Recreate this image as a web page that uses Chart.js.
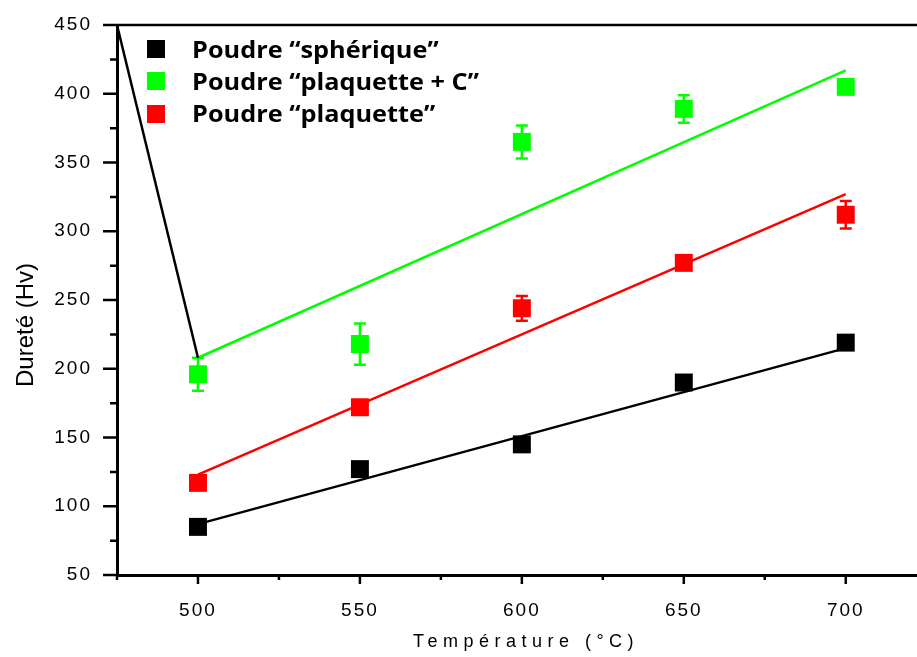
<!DOCTYPE html>
<html>
<head>
<meta charset="utf-8">
<script src="https://cdn.jsdelivr.net/npm/chart.js@4/dist/chart.umd.min.js"></script>
<style>
  html, body { margin: 0; padding: 0; background: #fff; overflow: hidden; }
  #wrap { width: 917px; height: 657px; position: relative; }
</style>
</head>
<body>
<div id="wrap"><canvas id="hvChart"></canvas></div>
<script>
const temps = [500, 550, 600, 650, 700];
const spheriqueHv = [85, 127, 145, 190, 219];
const spheriqueErr = [0, 0, 0, 0, 5];
const plaquetteCHv = [196, 218, 365, 389, 405];
const plaquetteCErr = [12, 15, 12, 10, 4];
const plaquetteHv = [117, 172, 244, 277, 312];
const plaquetteErr = [0, 3, 9, 2, 10];

const fitX = [500, 700];
const spheriqueFit = [87, 215];
const plaquetteCFit = [208, 417];
const plaquetteFit = [123, 327];
const guideX = [475, 500];
const guideY = [450, 208];

const xTicks = [475, 500, 525, 550, 575, 600, 625, 650, 675, 700];
const yTicks = [50, 75, 100, 125, 150, 175, 200, 225, 250, 275, 300, 325, 350, 375, 400, 425, 450];
const legendLabels = ['Poudre “sphérique”', 'Poudre “plaquette + C”', 'Poudre “plaquette”'];
const black = '#000000', green = '#00ff00', red = '#ff0000';

function pts(xs, ys) {
  return xs.map((x, i) => ({ x, y: ys[i] }));
}

function markerSet(label, ys, errs, color) {
  return {
    type: 'scatter', label, data: pts(temps, ys), errs,
    pointStyle: 'rect', pointRadius: 12.7, pointHoverRadius: 12.7,
    backgroundColor: color, borderColor: color, borderWidth: 0, order: 0
  };
}

function lineSet(xs, ys, color) {
  return {
    type: 'line', data: pts(xs, ys), borderColor: color, borderWidth: 2.5,
    pointRadius: 0, fill: false, tension: 0, order: 1
  };
}

// error bars under the markers
const errorBars = {
  id: 'errorBars',
  beforeDatasetsDraw(chart) {
    const { ctx, scales: { x, y } } = chart;
    ctx.save();
    chart.data.datasets.forEach(ds => {
      if (!ds.errs) return;
      ctx.strokeStyle = ds.borderColor;
      ctx.lineWidth = 2.5;
      ds.data.forEach((p, i) => {
        const e = ds.errs[i];
        if (!e) return;
        const px = x.getPixelForValue(p.x);
        const top = y.getPixelForValue(p.y + e);
        const bot = y.getPixelForValue(p.y - e);
        ctx.beginPath();
        ctx.moveTo(px, top); ctx.lineTo(px, bot);
        ctx.moveTo(px - 6, top); ctx.lineTo(px + 6, top);
        ctx.moveTo(px - 6, bot); ctx.lineTo(px + 6, bot);
        ctx.stroke();
      });
    });
    ctx.restore();
  }
};

const decor = {
  id: 'decor',
  beforeDraw(chart) {
    chart.ctx.letterSpacing = '2px';
  },
  afterDraw(chart) {
    const { ctx, chartArea: a, scales: { x, y } } = chart;
    ctx.save();
    ctx.letterSpacing = '0px';
    ctx.strokeStyle = '#000';
    ctx.lineWidth = 2.5;
    ctx.beginPath();
    ctx.moveTo(a.left - 14, a.top); ctx.lineTo(a.right, a.top);
    ctx.moveTo(a.left - 14, a.bottom); ctx.lineTo(a.left, a.bottom);
    xTicks.forEach(v => {
      const px = x.getPixelForValue(v);
      ctx.moveTo(px, a.bottom);
      ctx.lineTo(px, a.bottom + (v % 50 === 0 ? 9 : 5));
    });
    yTicks.forEach(v => {
      const py = y.getPixelForValue(v);
      ctx.moveTo(a.left, py);
      ctx.lineTo(a.left - (v % 50 === 0 ? 14 : 7), py);
    });
    ctx.stroke();

    // axis titles
    ctx.fillStyle = '#000';
    ctx.save();
    ctx.translate(26, 325);
    ctx.rotate(-Math.PI / 2);
    ctx.font = '24px "Liberation Sans"';
    ctx.textAlign = 'center';
    ctx.textBaseline = 'middle';
    ctx.fillText('Dureté (Hv)', 0, 0);
    ctx.restore();

    ctx.letterSpacing = '5.5px';
    ctx.font = '18px "Liberation Sans"';
    ctx.textAlign = 'center';
    ctx.textBaseline = 'alphabetic';
    ctx.fillText('Température (°C)', 526, 647);

    // legend (text a bit wider than the font, like the original)
    ctx.letterSpacing = '0px';
    ctx.font = 'bold 23px "Open Sans"';
    ctx.textAlign = 'left';
    const colors = [black, green, red];
    const boxY = [49, 81, 114];
    const baseY = [58, 90, 122];
    legendLabels.forEach((t, i) => {
      ctx.fillStyle = colors[i];
      ctx.fillRect(147, boxY[i] - 9, 18, 18);
      ctx.save();
      ctx.translate(192, baseY[i]);
      ctx.scale(1.1, 1);
      ctx.fillStyle = '#000';
      ctx.fillText(t, 0, 0);
      ctx.restore();
    });
    ctx.restore();
  }
};

new Chart(document.getElementById('hvChart'), {
  type: 'scatter',
  data: {
    datasets: [
      lineSet(guideX, guideY, black),
      lineSet(fitX, spheriqueFit, black),
      lineSet(fitX, plaquetteCFit, green),
      lineSet(fitX, plaquetteFit, red),
      markerSet(legendLabels[0], spheriqueHv, spheriqueErr, black),
      markerSet(legendLabels[1], plaquetteCHv, plaquetteCErr, green),
      markerSet(legendLabels[2], plaquetteHv, plaquetteErr, red)
    ]
  },
  options: {
    responsive: true,
    maintainAspectRatio: false,
    devicePixelRatio: 1,
    animation: false,
    layout: { autoPadding: false, padding: { top: 25, right: 0, left: 0, bottom: 0 } },
    plugins: { legend: { display: false }, tooltip: { enabled: false } },
    scales: {
      x: {
        type: 'linear', min: 475, max: 722,
        afterBuildTicks: s => { s.ticks = xTicks.map(v => ({ value: v })); },
        afterFit: s => { s.height = 82; s.paddingLeft = 0; s.paddingRight = 0; },
        grid: { display: false },
        border: { display: true, color: '#000', width: 3 },
        ticks: {
          color: '#000', padding: 16, maxRotation: 0, autoSkip: false,
          font: { family: 'Liberation Sans', size: 19 },
          callback: v => (v % 50 === 0 ? String(v) : '')
        }
      },
      y: {
        type: 'linear', min: 50, max: 450,
        afterBuildTicks: s => { s.ticks = yTicks.map(v => ({ value: v })); },
        afterFit: s => { s.width = 117; s.paddingTop = 0; s.paddingBottom = 0; },
        grid: { display: false },
        border: { display: true, color: '#000', width: 3 },
        ticks: {
          color: '#000', padding: 17, autoSkip: false,
          font: { family: 'Liberation Sans', size: 19 },
          callback: v => (v % 50 === 0 ? String(v) : '')
        }
      }
    }
  },
  plugins: [errorBars, decor]
});
</script>
</body>
</html>
